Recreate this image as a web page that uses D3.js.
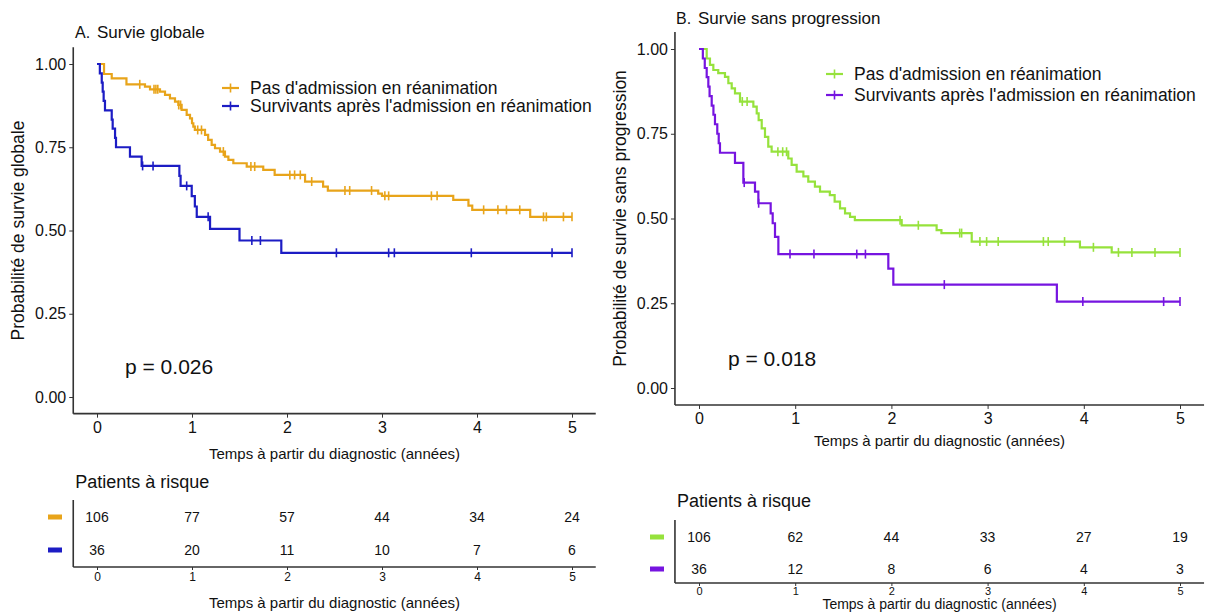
<!DOCTYPE html>
<html><head><meta charset="utf-8">
<script src="https://cdn.jsdelivr.net/npm/d3@7"></script>
<style>body{margin:0;background:#fff}text{font-family:"Liberation Sans",Arial,sans-serif;fill:#111}</style>
</head><body><svg id="c" width="1211" height="612"></svg>
<script>
// ---------- data ----------
const timeTicks = [0, 1, 2, 3, 4, 5];
const survTicks = [0, 0.25, 0.5, 0.75, 1];
const groupLabels = ["Pas d'admission en réanimation", "Survivants après l'admission en réanimation"];
const panelLetters = ["A.", "B."];
const panelTitles = ["Survie globale", "Survie sans progression"];
const yTitles = ["Probabilité de survie globale", "Probabilité de survie sans progression"];
const xTitle = "Temps à partir du diagnostic (années)";
const riskTitle = "Patients à risque";
const pValues = ["p = 0.026", "p = 0.018"];

// Overall survival, no ICU admission: [time, survival]
const osNoIcuSteps = [[0.074,0.97],[0.155,0.957],[0.31,0.939],[0.505,0.932],[0.558,0.924],[0.663,0.917],[0.716,0.907],[0.768,0.897],[0.821,0.887],[0.856,0.877],[0.891,0.862],[0.944,0.847],[0.979,0.837],[1.0,0.822],[1.014,0.812],[1.03,0.802],[1.137,0.787],[1.17,0.772],[1.207,0.757],[1.242,0.747],[1.295,0.737],[1.347,0.722],[1.383,0.712],[1.435,0.702],[1.576,0.692],[1.75,0.682],[1.87,0.667],[2.19,0.647],[2.38,0.632],[2.43,0.62],[2.96,0.611],[3.0,0.604],[3.75,0.592],[3.91,0.575],[3.95,0.562],[4.56,0.541]];
const osNoIcuCensor = [0.45,0.6,0.62,0.64,0.86,0.88,1.06,1.1,1.33,1.62,1.66,2.03,2.08,2.14,2.26,2.61,2.66,2.89,3.03,3.07,3.52,3.58,4.07,4.22,4.31,4.45,4.7,4.73,4.91,5.0];
// Overall survival, ICU survivors
const osIcuSteps = [[0.03,0.972],[0.05,0.944],[0.06,0.917],[0.07,0.889],[0.084,0.861],[0.155,0.833],[0.165,0.806],[0.19,0.778],[0.2,0.75],[0.347,0.722],[0.47,0.694],[0.867,0.664],[0.88,0.634],[0.997,0.603],[1.03,0.572],[1.05,0.541],[1.19,0.505],[1.5,0.47],[1.94,0.433]];
const osIcuCensor = [0.48,0.59,0.944,1.17,1.63,1.72,2.52,3.07,3.13,3.94,4.79,5.0];
// Progression-free survival, no ICU admission
const pfsNoIcuSteps = [[0.08,0.972],[0.114,0.953],[0.149,0.938],[0.2,0.929],[0.27,0.918],[0.305,0.899],[0.34,0.884],[0.374,0.869],[0.426,0.845],[0.565,0.83],[0.6,0.81],[0.62,0.79],[0.652,0.766],[0.686,0.741],[0.72,0.712],[0.755,0.697],[0.928,0.677],[0.963,0.658],[1.015,0.638],[1.085,0.624],[1.136,0.609],[1.205,0.594],[1.258,0.579],[1.36,0.569],[1.41,0.55],[1.466,0.53],[1.518,0.515],[1.57,0.505],[1.62,0.495],[2.107,0.48],[2.47,0.466],[2.52,0.457],[2.835,0.432],[3.96,0.415],[4.29,0.4]];
const pfsNoIcuCensor = [0.45,0.5,0.82,0.87,0.91,2.09,2.28,2.71,2.73,2.92,2.99,3.11,3.58,3.63,3.8,4.1,4.36,4.5,4.74,5.0];
// Progression-free survival, ICU survivors
const pfsIcuSteps = [[0.04,0.972],[0.06,0.944],[0.08,0.917],[0.097,0.889],[0.11,0.861],[0.132,0.833],[0.15,0.806],[0.166,0.778],[0.19,0.75],[0.205,0.722],[0.218,0.694],[0.374,0.664],[0.461,0.606],[0.582,0.579],[0.617,0.545],[0.745,0.515],[0.766,0.486],[0.79,0.446],[0.825,0.395],[1.968,0.352],[2.02,0.305],[3.72,0.255]];
const pfsIcuCensor = [0.47,0.62,0.946,1.195,1.64,1.73,2.55,3.99,4.83,5.0];

const osRiskNoIcu = [106, 77, 57, 44, 34, 24];
const osRiskIcu = [36, 20, 11, 10, 7, 6];
const pfsRiskNoIcu = [106, 62, 44, 33, 27, 19];
const pfsRiskIcu = [36, 12, 8, 6, 4, 3];

// ---------- layout / style ----------
const panels = [
  { colors:["#E8A41A","#1C1CC4"], steps:[osNoIcuSteps,osIcuSteps], censor:[osNoIcuCensor,osIcuCensor], risk:[osRiskNoIcu,osRiskIcu],
    x0:97, x5:572, yTop:64, yBot:397, title:[75,32], yTitleX:18, pPos:[125,366], leg:{x:222,y:[88,106]}, xTitleY:453,
    rt:{head:482, rows:[517,550], axis:567, top:500, tickFs:12, pad:2, title:602, titleFs:15, dash:48} },
  { colors:["#96E23C","#7614E0"], steps:[pfsNoIcuSteps,pfsIcuSteps], censor:[pfsNoIcuCensor,pfsIcuCensor], risk:[pfsRiskNoIcu,pfsRiskIcu],
    x0:699, x5:1180, yTop:49, yBot:388, title:[676,18], yTitleX:620, pPos:[728,358], leg:{x:826,y:[74,95]}, xTitleY:440,
    rt:{head:501, rows:[537,569], axis:583, top:520, tickFs:11, pad:1, title:604, titleFs:14, dash:650} }
];

const svg = d3.select("#c");
svg.append("rect").attr("width",1211).attr("height",612).attr("fill","#fff");
const axisCol = "#333";

function survAt(steps, t){ let s=1; for(const [tt,ss] of steps){ if(tt<=t) s=ss; } return s; }

panels.forEach((p, i) => {
  const x = d3.scaleLinear().domain([0,5]).range([p.x0,p.x5]);
  const y = d3.scaleLinear().domain([0,1]).range([p.yBot,p.yTop]);
  const g = svg.append("g");
  const xl = x(-0.25), xr = x(5.25), yb = y(-0.05);

  // axes
  const yAx = g.append("g").attr("transform",`translate(${xl},0)`)
    .call(d3.axisLeft(y).tickValues(survTicks).tickFormat(d3.format(".2f")).tickSize(4).tickPadding(3).tickSizeOuter(0));
  yAx.select(".domain").remove();
  const xAx = g.append("g").attr("transform",`translate(0,${yb})`)
    .call(d3.axisBottom(x).tickValues(timeTicks).tickFormat(d3.format("d")).tickSize(4).tickPadding(4).tickSizeOuter(0));
  xAx.select(".domain").remove();
  [yAx,xAx].forEach(a=>{ a.selectAll("line").attr("stroke",axisCol); a.selectAll("text").style("font-size","16px").attr("fill","#222"); });
  g.append("line").attr("x1",xl).attr("x2",xl).attr("y1",y(1.05)).attr("y2",yb).attr("stroke",axisCol).attr("stroke-width",1.6);
  g.append("line").attr("x1",xl).attr("x2",xr).attr("y1",yb).attr("y2",yb).attr("stroke",axisCol).attr("stroke-width",1.6);

  // titles
  g.append("text").attr("x",p.title[0]).attr("y",p.title[1]).attr("dominant-baseline","central").style("font-size","16px").text(panelLetters[i]);
  g.append("text").attr("x",p.title[0]+22).attr("y",p.title[1]).attr("dominant-baseline","central").style("font-size","17px").text(panelTitles[i]);
  g.append("text").attr("transform",`translate(${p.yTitleX},${y(0.5)}) rotate(-90)`).attr("text-anchor","middle").attr("dominant-baseline","central").style("font-size","17.5px").text(yTitles[i]);
  g.append("text").attr("x",(xl+xr)/2).attr("y",p.xTitleY).attr("text-anchor","middle").attr("dominant-baseline","central").style("font-size","15px").text(xTitle);
  g.append("text").attr("x",p.pPos[0]).attr("y",p.pPos[1]).attr("dominant-baseline","central").style("font-size","21px").text(pValues[i]);

  // curves
  const line = d3.line().x(d=>x(d[0])).y(d=>y(d[1])).curve(d3.curveStepAfter);
  p.steps.forEach((st, k) => {
    const pts = [[0,1], ...st, [5, st[st.length-1][1]]];
    g.append("path").attr("d",line(pts)).attr("fill","none").attr("stroke",p.colors[k]).attr("stroke-width",2.2);
    g.selectAll(null).data(p.censor[k]).enter().append("line")
      .attr("x1",d=>x(d)).attr("x2",d=>x(d)).attr("y1",d=>y(survAt(st,d))-4.5).attr("y2",d=>y(survAt(st,d))+4.5)
      .attr("stroke",p.colors[k]).attr("stroke-width",1.6);
  });

  // legend
  groupLabels.forEach((lab,k)=>{
    const ly = p.leg.y[k];
    g.append("line").attr("x1",p.leg.x).attr("x2",p.leg.x+17).attr("y1",ly).attr("y2",ly).attr("stroke",p.colors[k]).attr("stroke-width",2.2);
    g.append("line").attr("x1",p.leg.x+8.5).attr("x2",p.leg.x+8.5).attr("y1",ly-4.5).attr("y2",ly+4.5).attr("stroke",p.colors[k]).attr("stroke-width",1.6);
    g.append("text").attr("x",p.leg.x+28).attr("y",ly).attr("dominant-baseline","central").style("font-size","17.5px").text(lab);
  });

  // risk table
  const r = p.rt;
  g.append("text").attr("x",xl+2).attr("y",r.head).attr("dominant-baseline","central").style("font-size","18px").text(riskTitle);
  p.risk.forEach((vals,k)=>{
    g.append("rect").attr("x",r.dash).attr("y",r.rows[k]-2.5).attr("width",14).attr("height",5).attr("fill",p.colors[k]);
    g.selectAll(null).data(vals).enter().append("text")
      .attr("x",(d,j)=>x(timeTicks[j])).attr("y",r.rows[k]).attr("text-anchor","middle").attr("dominant-baseline","central")
      .style("font-size","14px").text(d=>d);
  });
  g.append("line").attr("x1",xl).attr("x2",xl).attr("y1",r.top).attr("y2",r.axis).attr("stroke",axisCol).attr("stroke-width",1.6);
  g.append("line").attr("x1",xl).attr("x2",xr).attr("y1",r.axis).attr("y2",r.axis).attr("stroke",axisCol).attr("stroke-width",1.6);
  const rAx = g.append("g").attr("transform",`translate(0,${r.axis})`)
    .call(d3.axisBottom(x).tickValues(timeTicks).tickFormat(d3.format("d")).tickSize(3).tickPadding(r.pad).tickSizeOuter(0));
  rAx.select(".domain").remove();
  rAx.selectAll("line").attr("stroke",axisCol);
  rAx.selectAll("text").style("font-size",r.tickFs+"px").attr("fill","#222");
  g.append("text").attr("x",(xl+xr)/2).attr("y",r.title).attr("text-anchor","middle").attr("dominant-baseline","central").style("font-size",r.titleFs+"px").text(xTitle);
});
</script></body></html>
